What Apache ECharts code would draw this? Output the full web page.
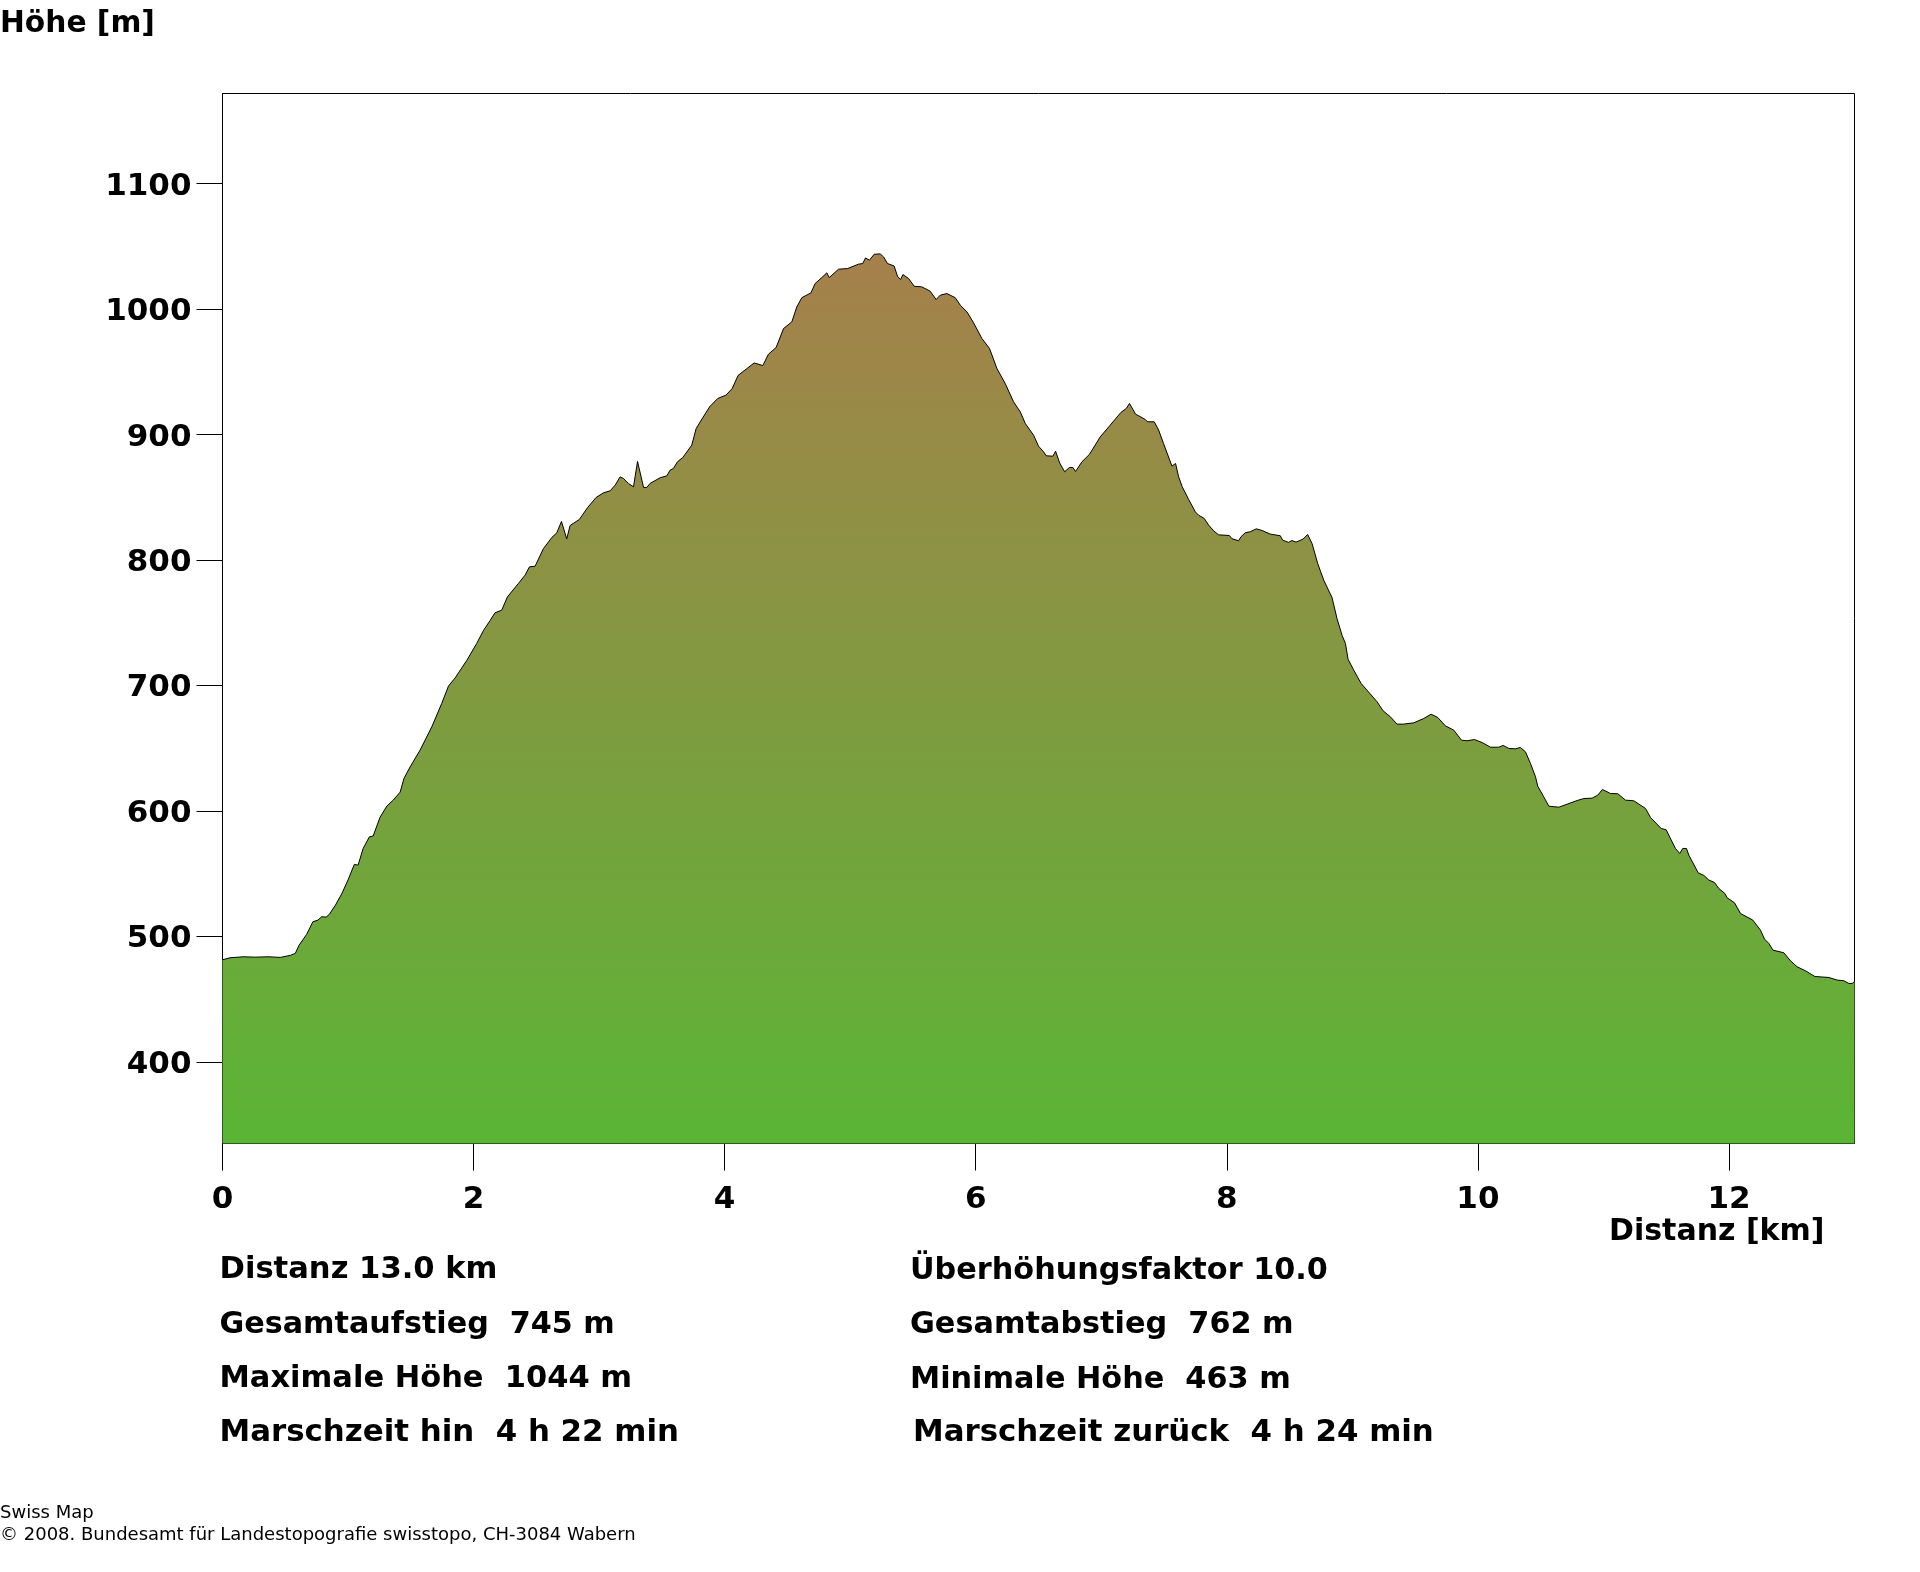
<!DOCTYPE html>
<html>
<head>
<meta charset="utf-8">
<title>Höhenprofil</title>
<style>
html, body { margin: 0; padding: 0; background: #fff; }
#main { width: 1920px; height: 1572px; }
</style>
<script src="https://cdn.jsdelivr.net/npm/echarts@6/dist/echarts.min.js"></script>
</head>
<body>
<div id="main"></div>
<script>
// Distanz [km] / Höhe [m]
var distanz = [
  0,0.06,0.166,0.26,0.365,0.46,0.54,0.58,0.61,0.67,0.72,0.76,0.79,0.825,0.85,0.9,0.95,1,1.05,1.08,
  1.12,1.17,1.2,1.255,1.31,1.36,1.415,1.446,1.494,1.574,1.667,1.746,1.8,1.853,1.946,2.025,2.08,2.13,2.171,2.224,
  2.27,2.357,2.41,2.445,2.49,2.556,2.623,2.663,2.7,2.742,2.769,2.843,2.907,2.976,3.035,3.088,3.128,3.167,3.194,3.234,
  3.274,3.306,3.354,3.38,3.406,3.486,3.539,3.566,3.592,3.624,3.667,3.738,3.773,3.805,3.88,3.945,4.01,4.06,4.107,4.177,
  4.235,4.304,4.349,4.41,4.469,4.535,4.575,4.615,4.687,4.721,4.774,4.814,4.833,4.907,4.979,5.066,5.1,5.122,5.154,5.191,
  5.239,5.266,5.297,5.35,5.377,5.401,5.42,5.465,5.51,5.571,5.637,5.685,5.717,5.77,5.837,5.877,5.93,5.983,6.049,6.11,
  6.169,6.235,6.301,6.355,6.395,6.461,6.5,6.54,6.562,6.615,6.636,6.668,6.708,6.747,6.774,6.795,6.846,6.907,6.992,7.071,
  7.156,7.199,7.225,7.273,7.35,7.369,7.422,7.457,7.496,7.563,7.592,7.616,7.645,7.696,7.749,7.775,7.82,7.855,7.895,7.935,
  8.02,8.041,8.094,8.113,8.147,8.187,8.235,8.28,8.346,8.426,8.445,8.492,8.519,8.551,8.607,8.644,8.679,8.724,8.772,8.838,
  8.878,8.918,8.945,8.966,9.011,9.07,9.197,9.245,9.303,9.356,9.409,9.489,9.569,9.627,9.68,9.741,9.808,9.869,9.914,9.972,
  10.034,10.1,10.166,10.201,10.246,10.299,10.339,10.379,10.419,10.459,10.477,10.525,10.565,10.645,10.711,10.791,10.844,10.91,10.955,10.992,
  11.056,11.114,11.176,11.242,11.335,11.375,11.46,11.5,11.54,11.574,11.608,11.632,11.662,11.68,11.755,11.8,11.84,11.885,11.919,11.967,
  11.986,12.044,12.092,12.19,12.251,12.283,12.318,12.35,12.437,12.49,12.543,12.61,12.684,12.796,12.862,12.915,12.955,12.981,13
];
var hoehe = [
  481.4,483,483.8,483.5,483.8,483.3,484.9,486.5,493,501.6,511.7,513,515.7,515.4,517.5,525,534,545,557.4,556.8,
  570,579.4,580,595,604,608.6,615,626,635,648.5,667,685.6,699.5,706,720,733.5,744,751.5,757.9,760,
  770.6,781.3,787.9,794.5,795,809,817.9,821.6,830.7,816.8,827.5,832.3,841.6,849.8,853.5,855.1,859.6,866.2,864.9,860.9,
  858.3,878.5,857.8,857.8,861,865.5,867,871.6,872.9,878.2,881.7,891.5,904.8,910,922,928.7,931.3,936.6,947,952.5,
  957,954.9,964,969.3,984.4,989.7,1001.7,1009,1012.8,1020.3,1025,1028.8,1025,1031.7,1032.2,1035.7,1036.2,1040.7,1038.9,1043.6,
  1043.9,1041.5,1036.2,1034.3,1026,1023.5,1027.4,1024.3,1018.1,1017.6,1014.2,1007.5,1011,1012.3,1009,1003,997.7,988.9,976.5,968.5,
  952.5,940.6,926,918,908.7,899.4,890.7,886.2,883,882.7,886.7,877.4,870.3,873.7,873.7,870.5,878.2,884.3,898.1,907.4,
  917.5,920.7,924.7,916.2,912,910.1,910.1,903.5,892.8,874.8,876.9,866.3,858.3,848.2,838.4,835.7,833.1,827.8,823.2,820,
  819.5,816.9,815.3,818.5,821.7,822.5,824.8,823.5,820.6,819.3,815.8,814,815.5,814.2,816.6,820.3,813.1,797.2,783.9,770.1,
  753.3,740,733.4,720.9,712.2,701.6,687,679.8,675,669.2,669.2,670.2,673.7,677.1,674.5,667.8,664.4,656.4,655.9,656.9,
  654.5,650.8,650.8,652.2,649.8,649.5,650.6,647.1,637.8,627.2,619.7,611.2,603.8,603,605.4,608.3,609.9,610.2,612.6,617.1,
  613.9,613.7,608.6,608.1,602,594.8,586,585,576.8,570.1,566.1,570.1,570.1,564.8,550.7,548.6,544.9,543,538.2,534.3,
  530.8,526.8,518.3,513,505,497.9,494.4,489.1,487,480.6,475.8,472.6,468.1,467.3,465.2,464.7,462.5,462.5,464.1
];
var xTicks = [0, 2, 4, 6, 8, 10, 12];
var yTicks = [400, 500, 600, 700, 800, 900, 1000, 1100];
var yTitel = 'Höhe [m]';
var xTitel = 'Distanz [km]';
var infoLinks = ['Distanz 13.0 km', 'Gesamtaufstieg  745 m', 'Maximale Höhe  1044 m', 'Marschzeit hin  4 h 22 min'];
var infoRechts = ['Überhöhungsfaktor 10.0', 'Gesamtabstieg  762 m', 'Minimale Höhe  463 m', 'Marschzeit zurück  4 h 24 min'];
var quelle = ['Swiss Map', '© 2008. Bundesamt für Landestopografie swisstopo, CH-3084 Wabern'];

var punkte = [];
for (var i = 0; i < distanz.length; i++) {
  punkte.push([distanz[i], hoehe[i]]);
}

var schrift = '"DejaVu Sans", sans-serif';
function text(x, y, s, size, weight) {
  return {
    type: 'text',
    x: x,
    y: y,
    silent: true,
    style: { text: s, fill: '#000', font: weight + ' ' + size + 'px ' + schrift, textAlign: 'left', textVerticalAlign: 'bottom' }
  };
}

var texte = [text(0, 39, yTitel, 29.7, 'bold'), text(1609, 1247, xTitel, 30, 'bold')];
var zeilen = [1286, 1340, 1395, 1448];
var groessen = [30.6, 30.2, 30.5, 30.85];
for (var k = 0; k < zeilen.length; k++) {
  texte.push(text(219.5, zeilen[k], infoLinks[k], groessen[k], 'bold'));
  texte.push(text(k === 3 ? 913 : 910, zeilen[k], infoRechts[k], k === 3 ? 30.85 : 30.3, 'bold'));
}
texte.push(text(0, 1522, quelle[0], 18, 'normal'));
texte.push(text(0, 1544, quelle[1], 18, 'normal'));

var myChart = echarts.init(document.getElementById('main'), null, { renderer: 'canvas' });
myChart.setOption({
  animation: false,
  backgroundColor: '#fff',
  grid: {
    left: 222.5, top: 93.5, width: 1632, height: 1050,
    show: true, borderColor: '#000', borderWidth: 1, backgroundColor: 'transparent'
  },
  xAxis: {
    type: 'value', min: 0, max: 13,
    splitLine: { show: false },
    axisLine: { show: true, onZero: false, lineStyle: { color: '#000', width: 1 } },
    axisTick: { show: true, length: 27, customValues: xTicks, lineStyle: { color: '#000', width: 1 } },
    axisLabel: {
      customValues: xTicks, margin: 41,
      color: '#000', fontFamily: schrift, fontWeight: 'bold', fontSize: 31
    }
  },
  yAxis: {
    type: 'value', min: 335, max: 1171.7,
    splitLine: { show: false },
    axisLine: { show: true, onZero: false, lineStyle: { color: '#000', width: 1 } },
    axisTick: { show: true, length: 26, customValues: yTicks, lineStyle: { color: '#000', width: 1 } },
    axisLabel: {
      customValues: yTicks, margin: 31,
      formatter: function (v) { return '{v|' + v + '}'; },
      rich: {
        v: { padding: [6, 0, 0, 0], color: '#000', fontFamily: schrift, fontWeight: 'bold', fontSize: 31 }
      },
      color: '#000', fontFamily: schrift, fontWeight: 'bold', fontSize: 31
    }
  },
  series: [{
    type: 'line',
    data: punkte,
    symbol: 'none',
    smooth: false,
    lineStyle: { color: '#000', width: 1 },
    areaStyle: {
      opacity: 1,
      color: new echarts.graphic.LinearGradient(0, 0, 0, 1, [
        { offset: 0, color: '#a6804b' },
        { offset: 1, color: '#5ab535' }
      ])
    }
  }],
  graphic: texte
});
</script>
</body>
</html>
